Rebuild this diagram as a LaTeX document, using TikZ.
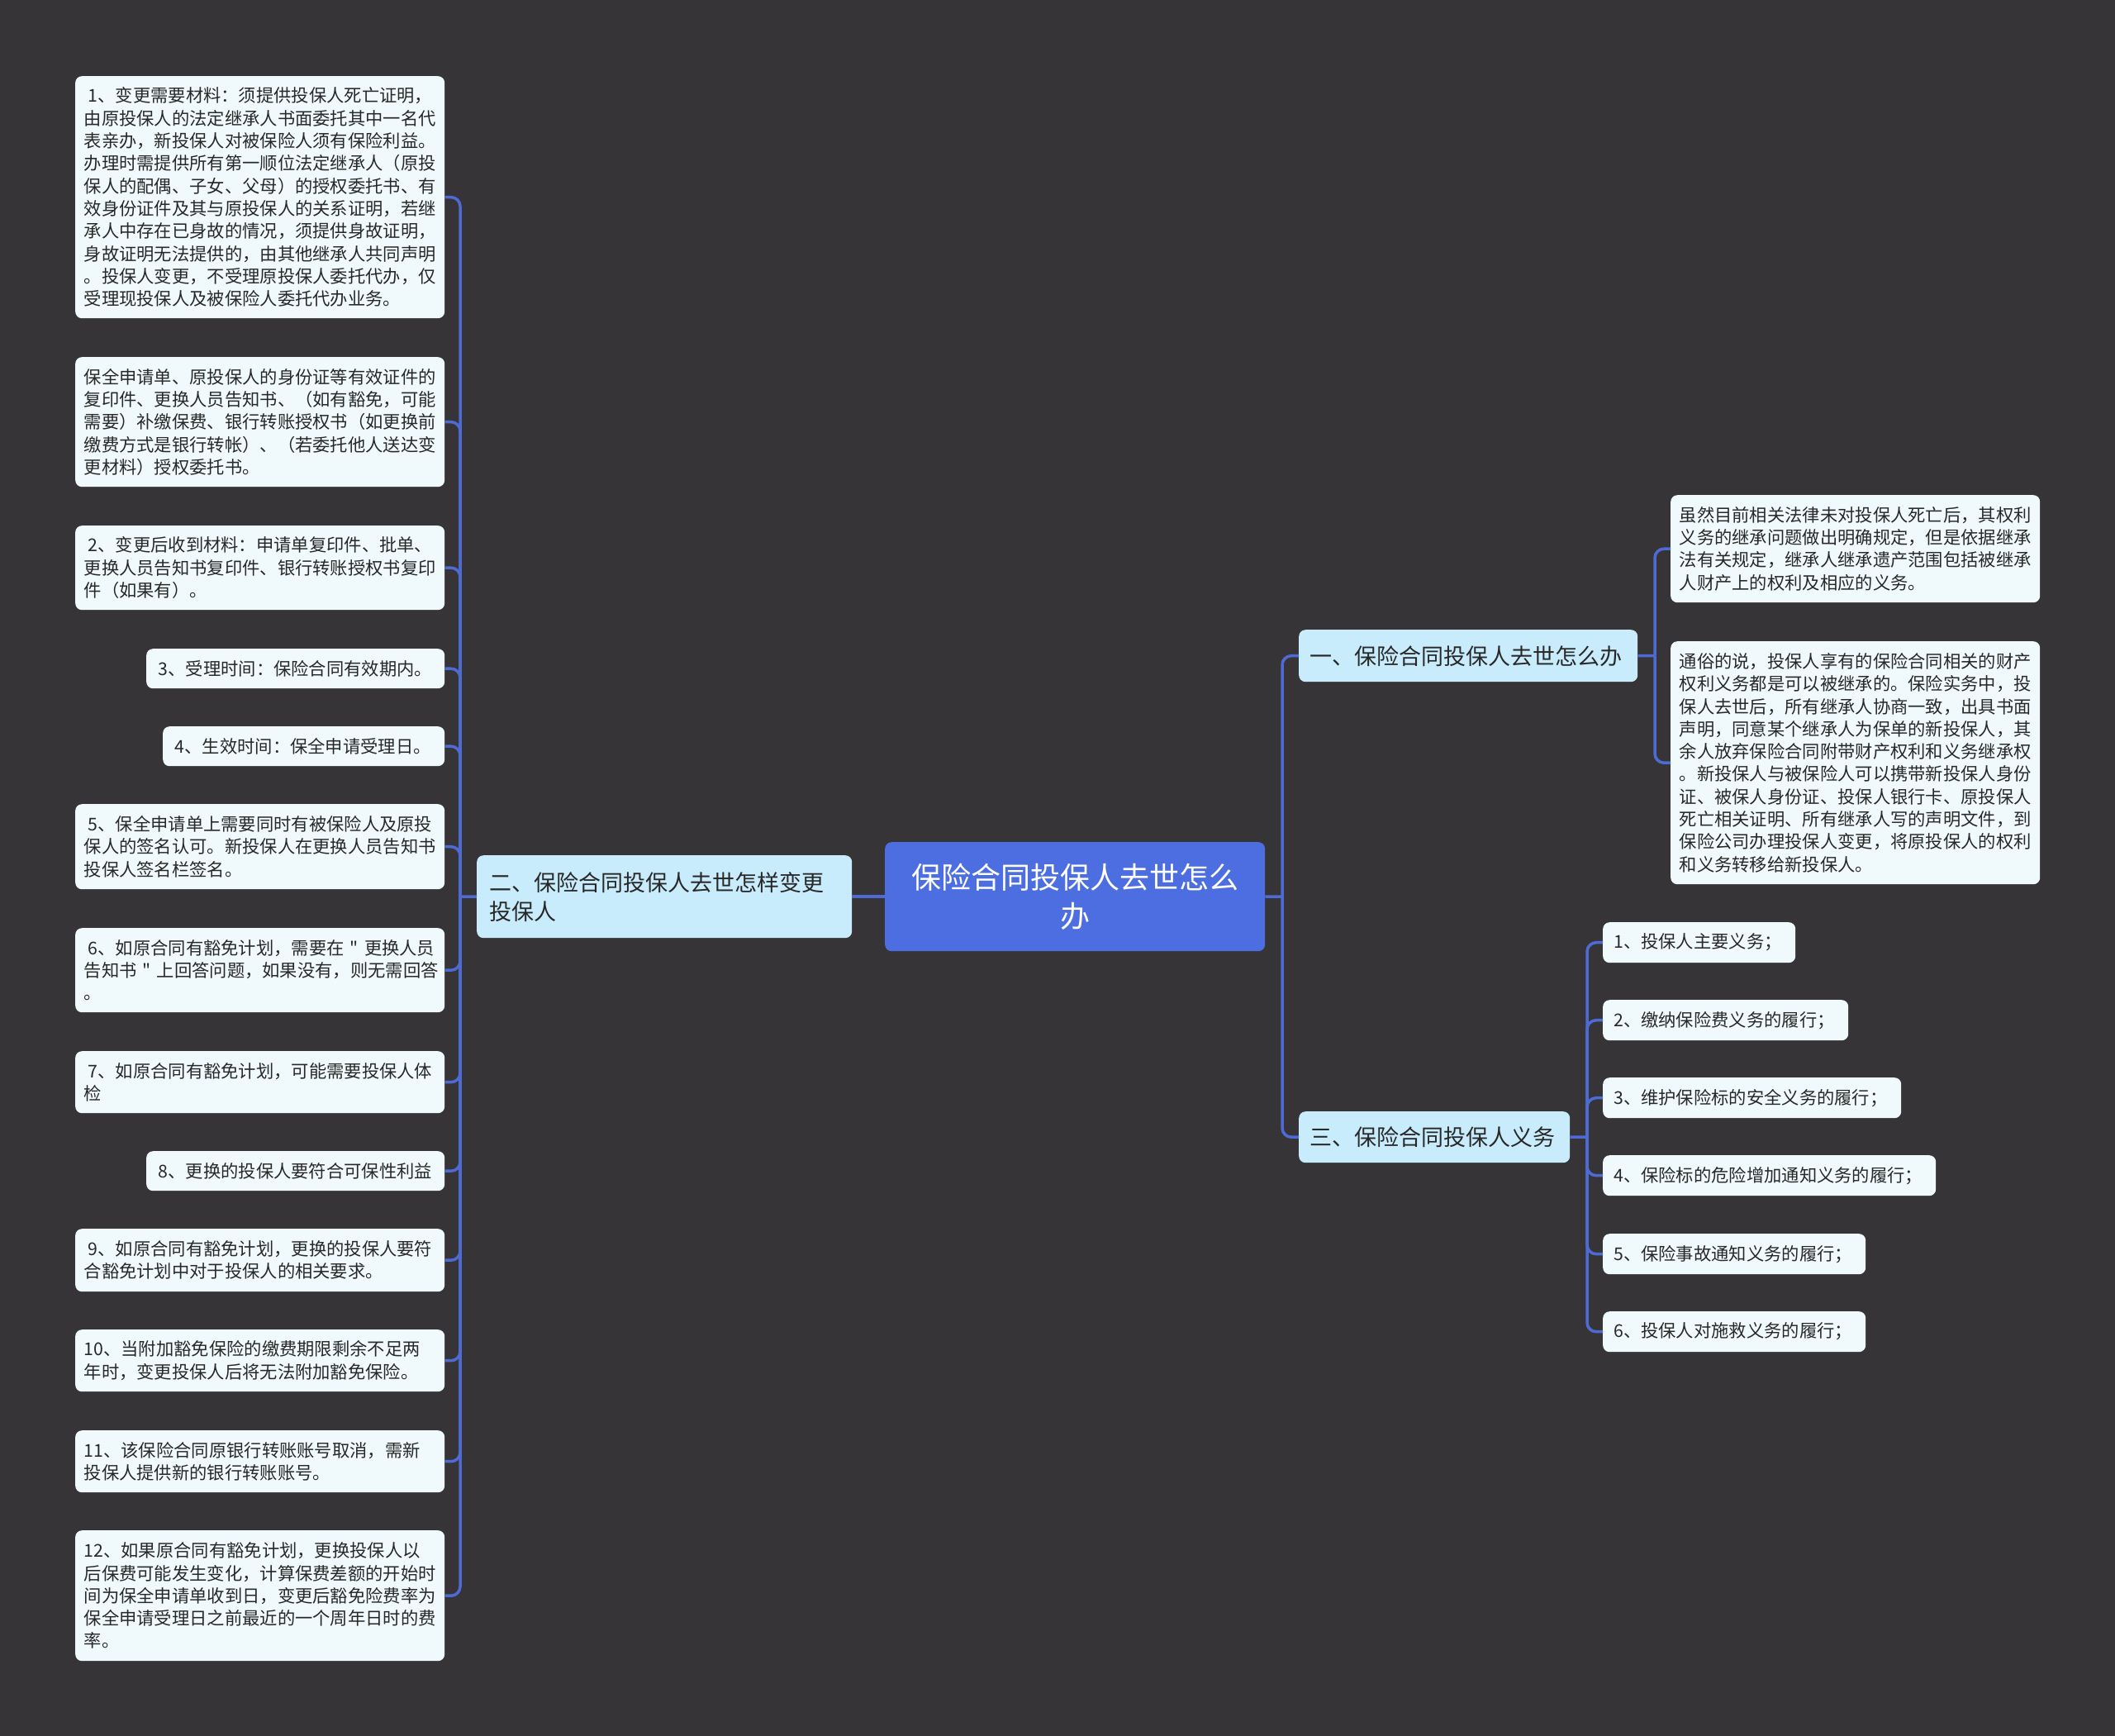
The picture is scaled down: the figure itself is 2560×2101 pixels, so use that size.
\documentclass[tikz,border=0pt]{standalone}
\usepackage{fontspec}
\newfontfamily\cjk{Noto Sans CJK SC}
\definecolor{bgc}{RGB}{54,52,54}
\definecolor{leafc}{RGB}{240,250,252}
\definecolor{lonec}{RGB}{200,236,252}
\definecolor{centc}{RGB}{76,110,224}
\definecolor{connc}{RGB}{78,107,212}
\definecolor{txtc}{RGB}{40,40,40}
\begin{document}
\begin{tikzpicture}[x=1pt,y=-1pt,
  leaf/.style={fill=leafc, rounded corners=8pt, text=txtc, align=left, anchor=north west,
    inner xsep=10.5pt, inner ysep=0pt, font=\cjk\fontsize{21.3}{27.3}\selectfont},
  lone/.style={fill=lonec, rounded corners=8pt, text=txtc, align=left, anchor=north west,
    inner xsep=14pt, inner ysep=0pt, font=\cjk\fontsize{27}{35}\selectfont},
  center/.style={fill=centc, rounded corners=8pt, text=white, align=center, anchor=north west,
    inner sep=0pt, font=\cjk\fontsize{36}{47}\selectfont},
  conn/.style={draw=connc, line width=3.5pt, rounded corners=11pt}]
\useasboundingbox (0,0) rectangle (2560,2101);
\fill[bgc] (0,0) rectangle (2560,2101);

% center
\node[center, minimum width=460pt, minimum height=132pt] (C) at (1071,1019) {保险合同投保人去世怎么\\办};

% level one
\node[lone, text width=424pt, minimum height=100pt, inner xsep=15pt] (B2) at (577,1035) {二、保险合同投保人去世怎样变更\\投保人};
\node[lone, text width=384pt, minimum height=63pt, inner xsep=13pt] (B1) at (1572,762) {一、保险合同投保人去世怎么办};
\node[lone, text width=302pt, minimum height=62pt, inner xsep=13pt] (B3) at (1572,1345) {三、保险合同投保人义务};

% left leaves
\node[leaf, text width=426pt, minimum height=293pt] (L1) at (91,92) {\hspace*{5pt}1、变更需要材料：须提供投保人死亡证明，\\由原投保人的法定继承人书面委托其中一名代\\表亲办，新投保人对被保险人须有保险利益。\\办理时需提供所有第一顺位法定继承人（原投\\保人的配偶、子女、父母）的授权委托书、有\\效身份证件及其与原投保人的关系证明，若继\\承人中存在已身故的情况，须提供身故证明，\\身故证明无法提供的，由其他继承人共同声明\\。投保人变更，不受理原投保人委托代办，仅\\受理现投保人及被保险人委托代办业务。};
\node[leaf, text width=426pt, minimum height=157pt] (L2) at (91,432) {保全申请单、原投保人的身份证等有效证件的\\复印件、更换人员告知书、（如有豁免，可能\\需要）补缴保费、银行转账授权书（如更换前\\缴费方式是银行转帐）、（若委托他人送达变\\更材料）授权委托书。};
\node[leaf, text width=426pt, minimum height=102pt] (L3) at (91,636) {\hspace*{5pt}2、变更后收到材料：申请单复印件、批单、\\更换人员告知书复印件、银行转账授权书复印\\件（如果有）。};
\node[leaf, text width=340pt, minimum height=48pt, inner xsep=10.5pt] (L4) at (177,785) {\hspace*{4pt}3、受理时间：保险合同有效期内。};
\node[leaf, text width=320pt, minimum height=48pt] (L5) at (197,879) {\hspace*{4pt}4、生效时间：保全申请受理日。};
\node[leaf, text width=426pt, minimum height=103pt] (L6) at (91,973) {\hspace*{5pt}5、保全申请单上需要同时有被保险人及原投\\保人的签名认可。新投保人在更换人员告知书\\投保人签名栏签名。};
\node[leaf, text width=426pt, minimum height=102pt] (L7) at (91,1123) {\hspace*{5pt}6、如原合同有豁免计划，需要在~"~更换人员\\告知书~"~上回答问题，如果没有，则无需回答\\。};
\node[leaf, text width=426pt, minimum height=75pt] (L8) at (91,1272) {\hspace*{5pt}7、如原合同有豁免计划，可能需要投保人体\\检};
\node[leaf, text width=340pt, minimum height=48pt] (L9) at (177,1393) {\hspace*{4pt}8、更换的投保人要符合可保性利益};
\node[leaf, text width=426pt, minimum height=76pt] (L10) at (91,1487) {\hspace*{5pt}9、如原合同有豁免计划，更换的投保人要符\\合豁免计划中对于投保人的相关要求。};
\node[leaf, text width=426pt, minimum height=75pt] (L11) at (91,1609) {10、当附加豁免保险的缴费期限剩余不足两\\年时，变更投保人后将无法附加豁免保险。};
\node[leaf, text width=426pt, minimum height=75pt] (L12) at (91,1731) {11、该保险合同原银行转账账号取消，需新\\投保人提供新的银行转账账号。};
\node[leaf, text width=426pt, minimum height=158pt] (L13) at (91,1852) {12、如果原合同有豁免计划，更换投保人以\\后保费可能发生变化，计算保费差额的开始时\\间为保全申请单收到日，变更后豁免险费率为\\保全申请受理日之前最近的一个周年日时的费\\率。};

% right leaves of B1
\node[leaf, text width=426pt, minimum height=130pt] (RA) at (2022,599) {虽然目前相关法律未对投保人死亡后，其权利\\义务的继承问题做出明确规定，但是依据继承\\法有关规定，继承人继承遗产范围包括被继承\\人财产上的权利及相应的义务。};
\node[leaf, text width=426pt, minimum height=294pt] (RB) at (2022,776) {通俗的说，投保人享有的保险合同相关的财产\\权利义务都是可以被继承的。保险实务中，投\\保人去世后，所有继承人协商一致，出具书面\\声明，同意某个继承人为保单的新投保人，其\\余人放弃保险合同附带财产权利和义务继承权\\。新投保人与被保险人可以携带新投保人身份\\证、被保人身份证、投保人银行卡、原投保人\\死亡相关证明、所有继承人写的声明文件，到\\保险公司办理投保人变更，将原投保人的权利\\和义务转移给新投保人。};

% right leaves of B3
\node[leaf, text width=207pt, minimum height=49pt, inner xsep=13pt] (R1) at (1940,1116) {1、投保人主要义务；};
\node[leaf, text width=271pt, minimum height=49pt, inner xsep=13pt] (R2) at (1940,1210) {2、缴纳保险费义务的履行；};
\node[leaf, text width=335pt, minimum height=49pt, inner xsep=13pt] (R3) at (1940,1304) {3、维护保险标的安全义务的履行；};
\node[leaf, text width=377pt, minimum height=49pt, inner xsep=13pt] (R4) at (1940,1398) {4、保险标的危险增加通知义务的履行；};
\node[leaf, text width=292pt, minimum height=49pt, inner xsep=13pt] (R5) at (1940,1493) {5、保险事故通知义务的履行；};
\node[leaf, text width=292pt, minimum height=49pt, inner xsep=13pt] (R6) at (1940,1587) {6、投保人对施救义务的履行；};

% trunk coordinates
\coordinate (tl) at (557,1085);
\coordinate (tr) at (1552,1085);
\coordinate (t1) at (2003,793.5);
\coordinate (t3) at (1921,1376);

% connectors
\draw[conn] (C.west) -- (B2.east);
\draw[conn] (C.east) -- (tr);
\draw[conn] (B2.west) -- (tl);
\draw[conn] (B1.west) -- (B1.west -| tr) -- (tr);
\draw[conn] (B3.west) -- (B3.west -| tr) -- (tr);
\foreach \n in {L1,L2,L3,L4,L5,L6,L7,L8,L9,L10,L11,L12,L13}
  \draw[conn] (\n.east) -- (\n.east -| tl) -- (tl);
\draw[conn] (B1.east) -- (t1);
\foreach \n in {RA,RB}
  \draw[conn] (\n.west) -- (\n.west -| t1) -- (t1);
\draw[conn] (B3.east) -- (t3);
\foreach \n in {R1,R2,R3,R4,R5,R6}
  \draw[conn] (\n.west) -- (\n.west -| t3) -- (t3);
\end{tikzpicture}
\end{document}
